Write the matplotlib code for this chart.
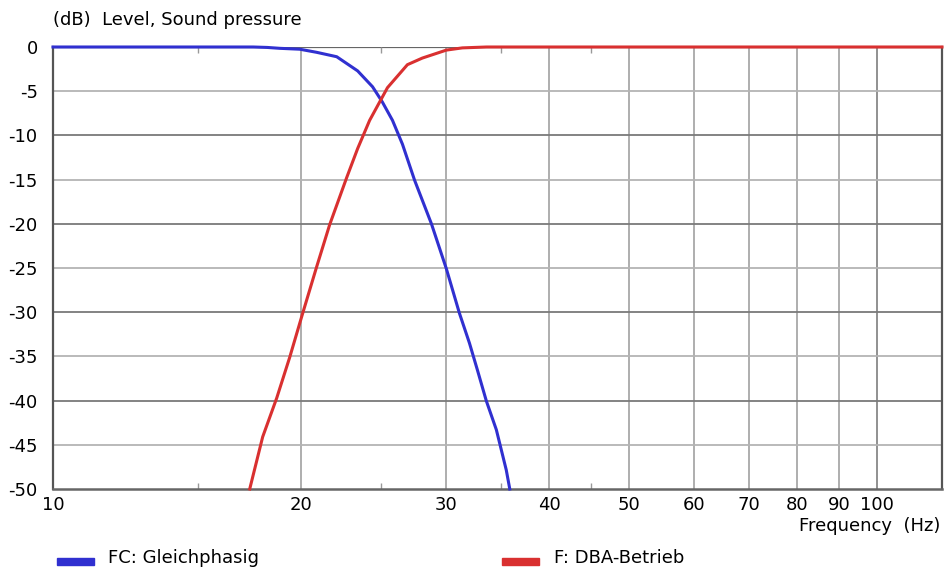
import numpy as np
import matplotlib.pyplot as plt
from matplotlib.ticker import FixedLocator, NullFormatter

plt.rcParams['axes.unicode_minus'] = False

# courbe bleue : FC Gleichphasig
f_fc = [10, 17.5, 18.2, 18.85, 19.93, 20.89, 22.1, 23.43, 24.43, 25.1, 25.83, 26.56,
        27.47, 28.8, 30.03, 31.14, 32.03, 32.74, 33.58, 34.53, 35.5, 35.85]
db_fc = [0, 0, -0.05, -0.15, -0.25, -0.6, -1.1, -2.7, -4.5, -6.2, -8.3, -11.0,
         -15.05, -20.0, -25.1, -30.1, -33.5, -36.5, -40.05, -43.3, -47.85, -50]

# courbe rouge : F DBA-Betrieb
f_dba = [17.33, 17.97, 18.69, 19.38, 20.04, 20.89, 21.67, 22.72, 23.43, 24.23,
         25.47, 26.93, 28.08, 30.03, 31.4, 33.6, 60, 120]
db_dba = [-50, -44.1, -39.7, -35.1, -30.5, -24.9, -20.1, -14.8, -11.5, -8.3,
          -4.6, -2.0, -1.25, -0.35, -0.1, 0, 0, 0]

xticks = [10, 20, 30, 40, 50, 60, 70, 80, 90, 100]
yticks = [0, -5, -10, -15, -20, -25, -30, -35, -40, -45, -50]

fig = plt.figure(figsize=(9.44, 5.67), dpi=100)
ax = fig.add_axes([53/944, 1-489/567, 889/944, 442/567])
ax.set_xscale('log')
ax.set_xlim(10, 120)
ax.set_ylim(-50, 0)

# grille
for x in xticks[1:]:
    c = '#888888' if x == 100 else '#a8a8a8'
    ax.axvline(x, color=c, lw=1.3, zorder=1)
for y in yticks[1:-1]:
    c = '#7a7a7a' if y % 10 == 0 else '#b4b4b4'
    ax.axhline(y, color=c, lw=1.3, zorder=1)
ax.axhline(0, color='#666666', lw=1.6, zorder=1)

ax.plot(f_fc, db_fc, color='#3030d0', lw=2.2, zorder=3, clip_on=False)
ax.plot(f_dba, db_dba, color='#d93030', lw=2.2, zorder=3, clip_on=False)

ax.xaxis.set_major_locator(FixedLocator(xticks))
ax.xaxis.set_major_formatter(plt.FixedFormatter([str(t) for t in xticks]))
ax.xaxis.set_minor_locator(FixedLocator([15, 25, 35, 45]))
ax.xaxis.set_minor_formatter(NullFormatter())
ax.set_yticks(yticks)
ax.set_yticklabels([str(t) for t in yticks])
ax.tick_params(axis='both', which='major', length=0, labelsize=13, colors='black')
ax.tick_params(axis='x', which='major', pad=5)
ax.tick_params(axis='y', which='major', pad=11)
ax.tick_params(axis='x', which='minor', length=4, direction='in', color='#999999',
               top=True, bottom=True, width=1)

ax.spines['top'].set_visible(False)
for s in ['left', 'right']:
    ax.spines[s].set_color('#555555')
    ax.spines[s].set_linewidth(1.6)
ax.spines['bottom'].set_color('#666666')
ax.spines['bottom'].set_linewidth(1.8)

fig.text(53/944, 1-20/567, '(dB)  Level, Sound pressure', fontsize=13, va='center', ha='left')
fig.text(940/944, 1-526/567, 'Frequency  (Hz)', fontsize=13, va='center', ha='right')

# legende
fig.patches.append(plt.Rectangle((57/944, 1-565/567), 37/944, 7/567, color='#3030d0',
                                 transform=fig.transFigure, figure=fig))
fig.text(108/944, 1-558/567, 'FC: Gleichphasig', fontsize=13, va='center', ha='left')
fig.patches.append(plt.Rectangle((502/944, 1-565/567), 37/944, 7/567, color='#d93030',
                                 transform=fig.transFigure, figure=fig))
fig.text(554/944, 1-558/567, 'F: DBA-Betrieb', fontsize=13, va='center', ha='left')

fig.savefig('out.png', dpi=100)
